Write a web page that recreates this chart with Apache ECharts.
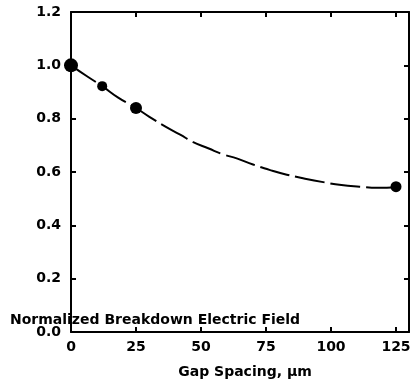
<!DOCTYPE html>
<html><head><meta charset="utf-8">
<script src="https://cdn.jsdelivr.net/npm/echarts@6/dist/echarts.min.js"></script>
<style>html,body{margin:0;padding:0;background:#fff}#c{width:411px;height:387px}</style>
</head><body><div id="c"></div>
<script>
// Measured points (markers)
const pointX = [0, 12, 25, 125];
const pointY = [1.0, 0.922, 0.84, 0.545];
const pointSize = [14, 10, 12, 11];
// Fitted curve (dashed line)
const curveX = [0, 6, 12, 18, 25, 30, 36, 42, 47, 53, 58, 64, 70, 77, 83, 90, 97, 104, 111, 118, 125];
const curveY = [1.0, 0.96, 0.922, 0.88, 0.84, 0.808, 0.772, 0.74, 0.712, 0.688, 0.668, 0.65, 0.628, 0.606, 0.59, 0.575, 0.562, 0.551, 0.545, 0.541, 0.543];
const xTicks = [0, 25, 50, 75, 100, 125];
const yTicks = [0.0, 0.2, 0.4, 0.6, 0.8, 1.0, 1.2];

const font = 'DejaVu Sans, sans-serif';
const chart = echarts.init(document.getElementById('c'));
const axisLine = {show: true, onZero: false, lineStyle: {color: '#000', width: 2}};
const axisTick = {show: true, inside: true, length: 5, lineStyle: {color: '#000', width: 2}};
const txt = {fontFamily: font, fontWeight: 'bold', fontSize: 14, color: '#000'};
chart.setOption({
  animation: false,
  grid: {left: 71, right: 2, top: 12, bottom: 55, containLabel: false, outerBoundsMode: 'none'},
  xAxis: [{
    type: 'value', min: 0, max: 130, interval: 25,
    name: 'Gap Spacing, \u03bcm', nameLocation: 'middle', nameGap: 33, nameMoveOverlap: false,
    nameTextStyle: Object.assign({padding: [0, 0, 0, 10]}, txt),
    axisLine, axisTick,
    axisLabel: Object.assign({margin: 8, formatter: v => xTicks.includes(v) ? String(v) : ''}, txt),
    splitLine: {show: false}
  }, {
    type: 'value', position: 'top', min: 0, max: 130, interval: 25,
    axisLine, axisTick, axisLabel: {show: false}, splitLine: {show: false}
  }],
  yAxis: [{
    type: 'value', min: 0, max: 1.2, interval: 0.2,
    name: 'Normalized Breakdown Electric Field', nameLocation: 'start', nameGap: -19, nameMoveOverlap: false,
    nameTextStyle: Object.assign({align: 'left', padding: [0, 0, 0, -61]}, txt),
    axisLine, axisTick,
    axisLabel: Object.assign({margin: 10, formatter: v => v.toFixed(1)}, txt),
    splitLine: {show: false}
  }, {
    type: 'value', position: 'right', min: 0, max: 1.2, interval: 0.2,
    axisLine, axisTick, axisLabel: {show: false}, splitLine: {show: false}
  }],
  series: [{
    type: 'line', data: curveX.map((x, i) => [x, curveY[i]]), smooth: true, showSymbol: false,
    lineStyle: {color: '#000', width: 2, type: [30, 6]}
  }, {
    type: 'scatter', data: pointX.map((x, i) => [x, pointY[i]]),
    symbolSize: (v, p) => pointSize[p.dataIndex],
    itemStyle: {color: '#000', opacity: 1}
  }]
});
</script></body></html>
